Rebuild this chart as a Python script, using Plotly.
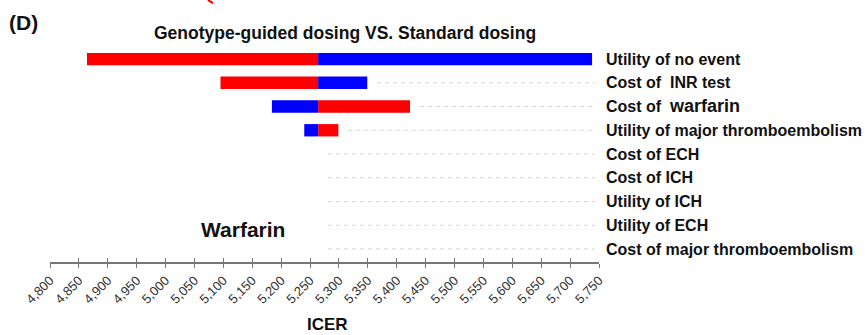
import plotly.graph_objects as go

# ---- data ----
parameters = [
    "Utility of no event",
    "Cost of\u00a0 INR test",
    "Cost of\u00a0 <span style='font-size:18px'>warfarin</span>",
    "Utility of major thromboembolism",
    "Cost of ECH",
    "Cost of ICH",
    "Utility of ICH",
    "Utility of ECH",
    "Cost of major thromboembolism",
]
base_icer = 5264
# ICER at the end of the red segment / blue segment (None = no bar)
red_end = [4864, 5095, 5423, 5299, None, None, None, None, None]
blue_end = [5738, 5349, 5184, 5240, None, None, None, None, None]
tick_values = list(range(4800, 5751, 50))

RED = "#ff0000"
BLUE = "#0000ff"

rows = list(range(len(parameters)))

def seg(ends):
    bases, lens, ys = [], [], []
    for i, e in enumerate(ends):
        if e is None:
            continue
        lo, hi = min(e, base_icer), max(e, base_icer)
        bases.append(lo)
        lens.append(hi - lo)
        ys.append(i)
    return bases, lens, ys

fig = go.Figure()
for ends, col in ((red_end, RED), (blue_end, BLUE)):
    b, l, y = seg(ends)
    fig.add_trace(go.Bar(
        x=l, base=b, y=y, orientation="h", width=0.52,
        marker=dict(color=col, line=dict(width=0)),
        showlegend=False, hoverinfo="skip",
    ))

# dashed guide lines from the end of each bar to the right edge
x_end = 5743
gap = 17
for i in rows:
    vals = [base_icer] + [v for v in (red_end[i], blue_end[i]) if v is not None]
    start = max(vals) + gap
    if start < x_end:
        fig.add_shape(type="line", x0=start, x1=x_end, y0=i, y1=i,
                      xref="x", yref="y",
                      line=dict(color="#d4d4d4", width=1, dash="4px,4px"))

# dummy trace for the second (overlay) x axis that draws inside ticks
fig.add_trace(go.Scatter(x=[4800], y=[0], xaxis="x2", mode="markers",
                         marker=dict(opacity=0), showlegend=False,
                         hoverinfo="skip"))

fig.update_layout(
    width=865, height=335,
    margin=dict(l=50, r=266, t=46, b=73),
    plot_bgcolor="white", paper_bgcolor="white",
    barmode="overlay",
    font=dict(family="Liberation Sans, Arial, sans-serif", color="#111"),
    xaxis=dict(
        range=[4800, 5750], tickvals=tick_values, tickformat=",d",
        tickangle=-45, ticks="outside", ticklen=4, tickcolor="#777",
        tickwidth=1, showline=True, linecolor="#777", linewidth=1.5,
        showgrid=False, zeroline=False, automargin=False,
        tickfont=dict(size=13, color="#333",
                      family="Liberation Sans Narrow, Liberation Sans, Arial, sans-serif"),
    ),
    xaxis2=dict(
        range=[4800, 5750], overlaying="x", anchor="y", side="bottom",
        tickvals=tick_values, ticks="inside", ticklen=4, tickcolor="#777",
        tickwidth=1, showticklabels=False, showline=False, showgrid=False,
        zeroline=False, automargin=False,
    ),
    yaxis=dict(
        range=[8.55, -0.55], tickvals=rows,
        ticktext=["<b>" + p + "</b>" for p in parameters],
        side="right", ticks="", showline=False, showgrid=False,
        zeroline=False, ticklabelstandoff=6, automargin=False,
        tickfont=dict(size=16, color="#111",
                      family="Liberation Sans, Arial, sans-serif"),
    ),
)

fig.add_annotation(text="<b>Genotype-guided dosing VS. Standard dosing</b>",
                   xref="paper", yref="paper", x=(345 - 50) / 549.3,
                   y=(262.3 - 33) / 216.3, showarrow=False,
                   font=dict(size=17.5, color="#111"), xanchor="center",
                   yanchor="middle")
fig.add_annotation(text="<b>(D)</b>", xref="paper", yref="paper",
                   x=(7 - 50) / 549.3, y=(262.3 - 22) / 216.3,
                   showarrow=False, font=dict(size=21, color="#111"),
                   xanchor="left", yanchor="middle")
fig.add_annotation(text="<b>Warfarin</b>", xref="paper", yref="paper",
                   x=(243 - 50) / 549.3, y=(262.3 - 230) / 216.3,
                   showarrow=False, font=dict(size=21, color="#111"),
                   xanchor="center", yanchor="middle")
fig.add_annotation(text="<b>ICER</b>", xref="paper", yref="paper",
                   x=(328 - 50) / 549.3, y=(262.3 - 325) / 216.3,
                   showarrow=False, font=dict(size=17, color="#111"),
                   xanchor="center", yanchor="middle")
# small red fragment at the very top (from neighbouring panel)
fig.add_shape(type="line", xref="paper", yref="paper",
              x0=(208 - 50) / 549.3, y0=(262.3 - 0) / 216.3,
              x1=(213 - 50) / 549.3, y1=(262.3 - 3) / 216.3,
              line=dict(color=RED, width=2))

fig.write_html("out.html")
